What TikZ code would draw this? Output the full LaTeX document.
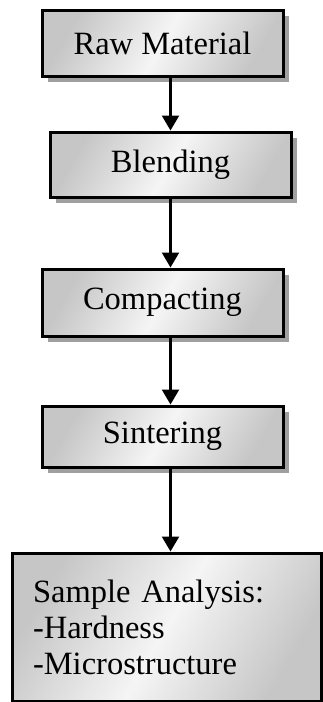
\documentclass[tikz,border=0pt]{standalone}
\usepackage{fontspec}
\setmainfont{Liberation Serif}
\usetikzlibrary{arrows.meta,shadows}
\tikzset{
  stage/.style={draw=black, line width=3pt, minimum width=241pt, minimum height=#1,
    left color=gray!45, right color=gray!45, middle color=gray!8, shading angle=60,
    drop shadow={shadow xshift=6pt, shadow yshift=-6pt, fill=gray!75, opacity=1},
    font=\fontsize{32.5pt}{36pt}\selectfont},
  flow/.style={line width=2.4pt, -{Triangle[length=15pt,width=17pt]}}
}
\begin{document}
\begin{tikzpicture}[x=1pt,y=-1pt]
      \useasboundingbox (0,0) rectangle (322,702);
      \draw
        (162.5,43) node[stage=66pt] (raw){Raw Material}
        (170.5,164.5) node[stage=65pt] (blend){Blending}
        (162.5,302.5) node[stage=67pt] (compact){Compacting}
        (162.5,436.5) node[stage=61pt] (sinter){Sintering}
        (166.5,627) node[stage=148pt, minimum width=309pt, text width=267pt,
          inner sep=0pt, align=left] (analysis){Sample Analysis:\\-Hardness\\-Microstructure};
      \begin{scope}[flow]
        \draw (raw.south -| blend.center) to (blend.north);
        \draw (blend.south) to (blend.south |- compact.north);
        \draw (compact.south -| blend.center) to (blend.center |- sinter.north);
        \draw (sinter.south -| blend.center) to (blend.center |- analysis.north);
      \end{scope}
    \end{tikzpicture}
\end{document}
